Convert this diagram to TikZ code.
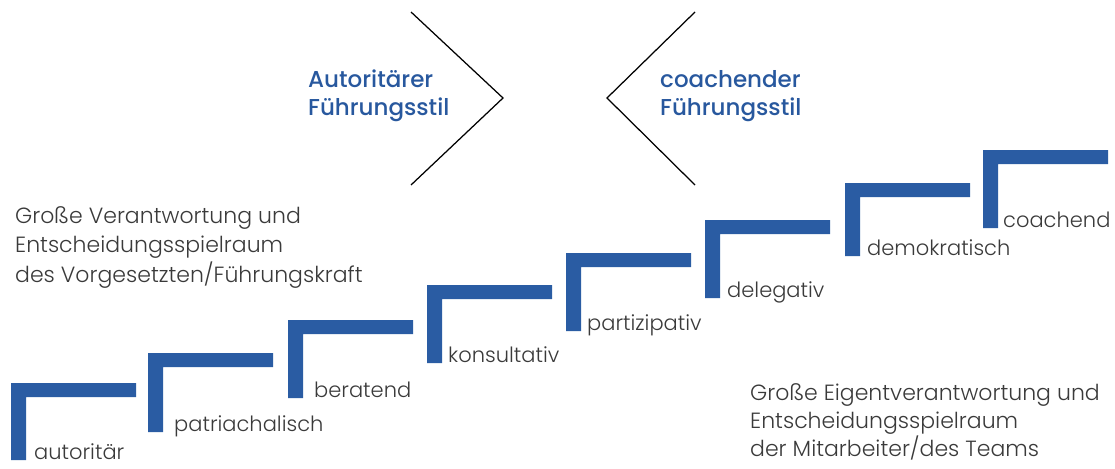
\documentclass[tikz,border=0pt]{standalone}
\usepackage{fontspec}
\setmainfont{Poppins Light}
\newfontfamily\titlefont{Poppins Medium}
\definecolor{stepblue}{RGB}{42,92,163}
\definecolor{titleblue}{RGB}{40,88,158}
\definecolor{textgray}{RGB}{58,58,58}
\tikzset{
  stepbar/.style={fill=stepblue},
  steplabel/.style={anchor=base west, inner sep=0pt, text=textgray,
    font=\fontsize{21}{28}\selectfont},
  infotext/.style={anchor=north west, inner sep=0pt, align=left, text=textgray},
  titletext/.style={anchor=north west, inner sep=0pt, align=left, text=titleblue,
    font=\titlefont\fontsize{23}{28}\selectfont},
  chevron/.style={draw=black, line width=1.25pt, line join=miter}
}
\begin{document}
\begin{tikzpicture}[x=1pt, y=-1pt]
  \useasboundingbox (0,0) rectangle (1115,468);

  % style headings and the two opposing chevrons
  \node[titletext] (tleft) at (308,70) {Autoritärer\\Führungsstil};
  \node[titletext] (tright) at (660,70) {coachender\\Führungsstil};
  \draw[chevron] (411,12) -- (503,98) -- (411,185);
  \draw[chevron] (695,12) -- (607,98) -- (695,185);

  % descriptions at both ends of the staircase
  \node[infotext, font=\fontsize{22}{29.5}\selectfont] (high) at (15,206)
    {Große Verantwortung und\\Entscheidungsspielraum\\des Vorgesetzten/Führungskraft};
  \node[infotext, font=\fontsize{22}{28}\selectfont] (low) at (750,383)
    {Große Eigentverantwortung und\\Entscheidungsspielraum\\der Mitarbeiter/des Teams};

  % staircase: x, top of the bar, bottom of the post, label offset, label, name
  \foreach \x/\t/\b/\o/\lab/\n in {
      11/383/460/23/autoritär/s1,
      148/353/432/26/patriachalisch/s2,
      288/320/398/26/beratend/s3,
      427/285/363/21/konsultativ/s4,
      566/253/331/21/partizipativ/s5,
      705/220/298/22/delegativ/s6,
      845/183/256/22/demokratisch/s7,
      983/150/228/20/coachend/s8} {
    \fill[stepbar] (\x,\t) -- ({\x+125},\t) -- ({\x+125},{\t+14})
      -- ({\x+15},{\t+14}) -- ({\x+15},\b) -- (\x,\b) -- cycle;
    \node[steplabel] (\n) at ({\x+\o},{\b-1}) {\lab};
  }
\end{tikzpicture}
\end{document}
